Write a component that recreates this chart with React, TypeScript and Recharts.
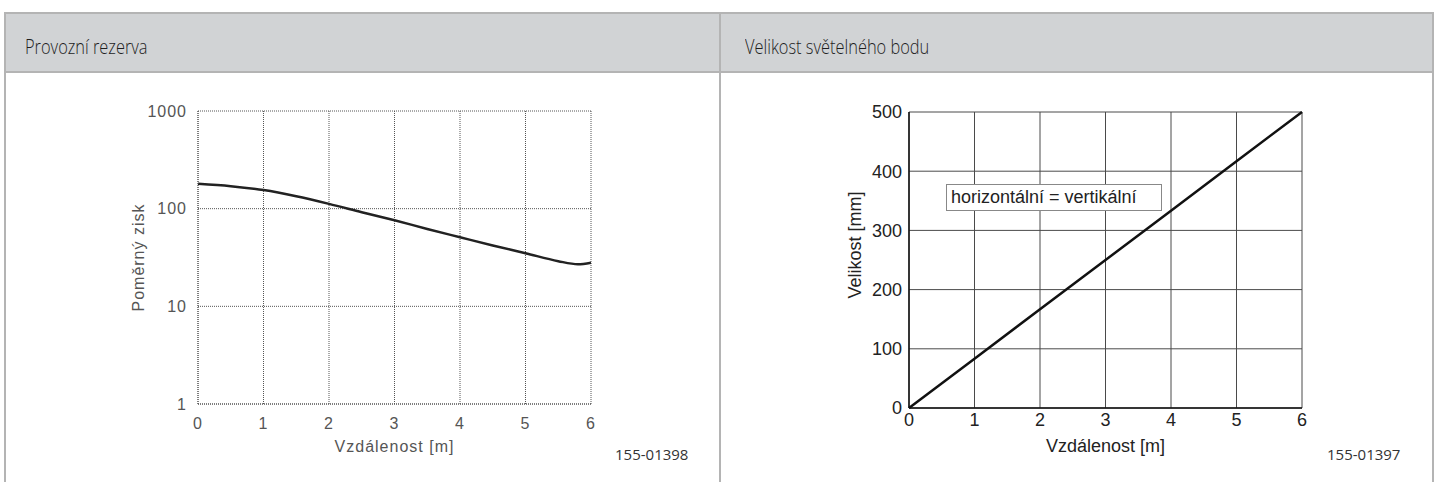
import { LineChart, Line, XAxis, YAxis, CartesianGrid, Label } from 'recharts';

// Provozní rezerva (log scale)
const reserveDistance = [0, 0.5, 1, 1.5, 2, 2.5, 3, 3.5, 4, 4.5, 5, 5.5, 5.8, 6];
const reserveGain = [180, 170, 155, 134, 112, 92, 76, 62, 51, 42, 35, 29, 27, 28];
const reserveYTicks = [1, 10, 100, 1000];
const distanceTicks = [0, 1, 2, 3, 4, 5, 6];

// Velikost světelného bodu
const spotDistance = [0, 1, 2, 3, 4, 5, 6];
const spotSize = [0, 83, 167, 250, 333, 417, 500];
const spotYTicks = [0, 100, 200, 300, 400, 500];

const reserveData = reserveDistance.map((d, i) => ({ d, v: reserveGain[i] }));
const spotData = spotDistance.map((d, i) => ({ d, v: spotSize[i] }));

const BORDER = '#b4b4b4';
const HEADER_BG = '#d1d3d5';
// condensed light look of the original header font
const headerFont = {
    fontFamily: '"Open Sans", sans-serif',
    fontWeight: 300,
    fontSize: 20,
    color: '#1e1e1e',
    transform: 'scaleX(0.82)',
    transformOrigin: 'left center',
    whiteSpace: 'nowrap' as const,
};
const scanFont = { fontFamily: '"Liberation Sans", Arial, sans-serif', fontSize: 16, fill: '#555', letterSpacing: 1 };
const arialFont = { fontFamily: '"Liberation Sans", Arial, sans-serif', fontSize: 18, fill: '#222' };

// rotated y-axis title, centred on (viewBox.x + dx, middle + dy)
const yTitle = (text: string, dx: number, dy: number, style: any) => (props: any) => {
    const { viewBox } = props;
    const x = viewBox.x + dx;
    const y = viewBox.y + viewBox.height / 2 + dy;
    return (
        <text x={x} y={y} transform={`rotate(-90, ${x}, ${y})`} textAnchor="middle" dominantBaseline="central" style={style}>
            {text}
        </text>
    );
};

export default function App() {
    return (
        <div style={{ position: 'absolute', left: 0, top: 0, width: 1440, height: 482, background: '#fff', overflow: 'hidden' }}>
            {/* table frame */}
            <div style={{ position: 'absolute', left: 4, top: 12, width: 1430, height: 61, background: HEADER_BG, borderTop: `2px solid ${BORDER}`, borderBottom: `2px solid ${BORDER}`, boxSizing: 'border-box' }} />
            <div style={{ position: 'absolute', left: 4, top: 12, width: 2, height: 470, background: BORDER }} />
            <div style={{ position: 'absolute', left: 719, top: 12, width: 2, height: 470, background: BORDER }} />
            <div style={{ position: 'absolute', left: 1432, top: 12, width: 2, height: 470, background: BORDER }} />
            <div style={{ ...headerFont, position: 'absolute', left: 25, top: 34, lineHeight: '26px' }}>Provozní rezerva</div>
            <div style={{ ...headerFont, position: 'absolute', left: 745, top: 34, lineHeight: '26px' }}>Velikost světelného bodu</div>

            {/* left chart */}
            <div style={{ position: 'absolute', left: 0, top: 0 }}>
                <LineChart width={720} height={482} data={reserveData} margin={{ top: 111, right: 129, left: 118, bottom: 22 }}>
                    <CartesianGrid stroke="#555" strokeDasharray="1 1" />
                    <XAxis
                        dataKey="d"
                        type="number"
                        domain={[0, 6]}
                        ticks={distanceTicks}
                        height={56}
                        tickSize={0}
                        tickMargin={14}
                        axisLine={{ stroke: '#555', strokeDasharray: '1 1' }}
                        tick={scanFont}
                    >
                        <Label value="Vzdálenost [m]" position="insideBottom" offset={8} style={scanFont} />
                    </XAxis>
                    <YAxis
                        type="number"
                        scale="log"
                        domain={[1, 1000]}
                        ticks={reserveYTicks}
                        allowDataOverflow
                        width={80}
                        tickSize={0}
                        tickMargin={11}
                        axisLine={{ stroke: '#555', strokeDasharray: '1 1' }}
                        tick={scanFont}
                    >
                        <Label content={yTitle('Poměrný zisk', 20, 0, scanFont)} />
                    </YAxis>
                    <Line type="monotone" dataKey="v" stroke="#222" strokeWidth={2.5} dot={false} isAnimationActive={false} />
                </LineChart>
            </div>
            <div style={{ position: 'absolute', left: 615, top: 444, fontFamily: '"Open Sans", sans-serif', fontSize: 15, color: '#333' }}>155-01398</div>

            {/* right chart */}
            <div style={{ position: 'absolute', left: 720, top: 0 }}>
                <LineChart width={720} height={482} data={spotData} margin={{ top: 112, right: 138, left: 109, bottom: 14 }}>
                    <CartesianGrid stroke="#4a4a4a" />
                    <XAxis
                        dataKey="d"
                        type="number"
                        domain={[0, 6]}
                        ticks={distanceTicks}
                        height={60}
                        tickSize={0}
                        tickMargin={5}
                        axisLine={{ stroke: '#111', strokeWidth: 1.5 }}
                        tick={arialFont}
                    >
                        <Label value="Vzdálenost [m]" position="insideBottom" offset={16} style={arialFont} />
                    </XAxis>
                    <YAxis
                        type="number"
                        domain={[0, 500]}
                        ticks={spotYTicks}
                        width={80}
                        tickSize={0}
                        tickMargin={7}
                        axisLine={{ stroke: '#111', strokeWidth: 1.5 }}
                        tick={arialFont}
                    >
                        <Label content={yTitle('Velikost [mm]', 26, -15, arialFont)} />
                    </YAxis>
                    <Line type="linear" dataKey="v" stroke="#111" strokeWidth={2.5} dot={false} isAnimationActive={false} />
                </LineChart>
            </div>
            <div style={{ position: 'absolute', left: 946, top: 184, width: 216, height: 27, boxSizing: 'border-box', border: '1px solid #888', background: '#fff', fontFamily: '"Liberation Sans", Arial, sans-serif', fontSize: 18, color: '#222', lineHeight: '25px', paddingLeft: 4, whiteSpace: 'nowrap' }}>
                horizontální = vertikální
            </div>
            <div style={{ position: 'absolute', left: 1327, top: 444, fontFamily: '"Open Sans", sans-serif', fontSize: 15, color: '#333' }}>155-01397</div>
        </div>
    );
}
